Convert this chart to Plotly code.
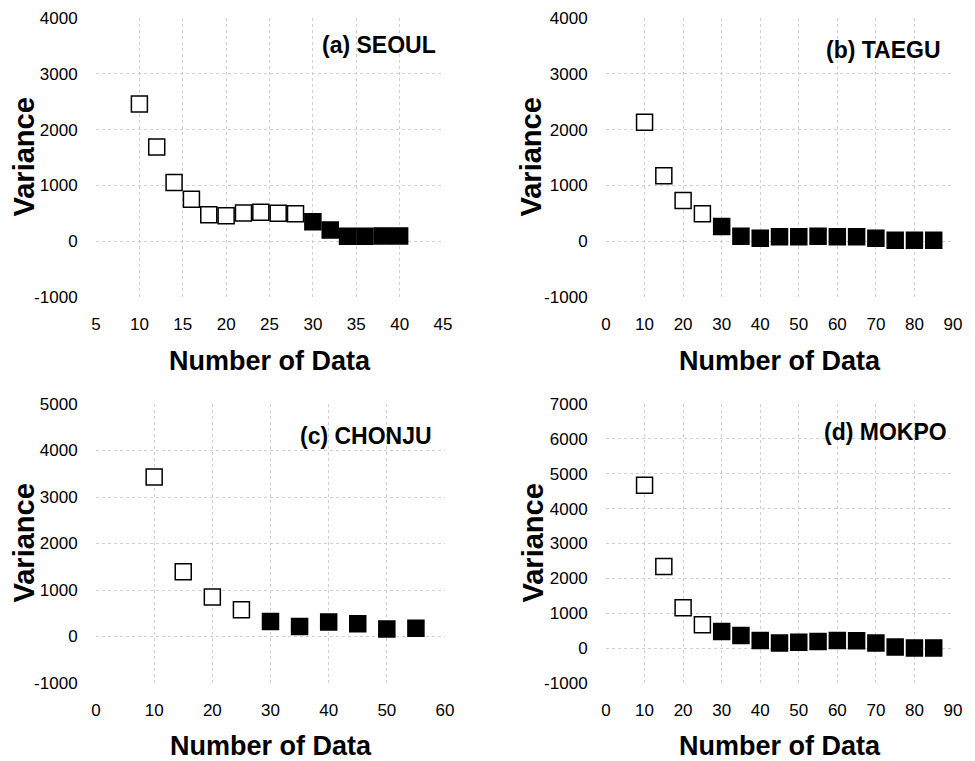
import plotly.graph_objects as go

# ---- data ----
seoul_x = [10, 12, 14, 16, 18, 20, 22, 24, 26, 28, 30, 32, 34, 36, 38, 40]
seoul_y = [2460, 1690, 1050, 750, 475, 455, 505, 520, 500, 490, 350, 200, 90, 90, 95, 95]
seoul_open = 10  # first N points drawn as open squares

taegu_x = [10, 15, 20, 25, 30, 35, 40, 45, 50, 55, 60, 65, 70, 75, 80, 85]
taegu_y = [2130, 1175, 730, 490, 265, 90, 55, 80, 80, 90, 80, 80, 55, 15, 15, 15]
taegu_open = 4

chonju_x = [10, 15, 20, 25, 30, 35, 40, 45, 50, 55]
chonju_y = [3430, 1390, 850, 575, 325, 215, 310, 275, 160, 180]
chonju_open = 4

mokpo_x = [10, 15, 20, 25, 30, 35, 40, 45, 50, 55, 60, 65, 70, 75, 80, 85]
mokpo_y = [4670, 2340, 1160, 670, 480, 365, 220, 145, 165, 190, 220, 210, 145, 30, 5, 5]
mokpo_open = 4

titles = ["(a) SEOUL", "(b) TAEGU", "(c) CHONJU", "(d) MOKPO"]
x_ranges = [[5, 45], [0, 90], [0, 60], [0, 90]]
x_dticks = [5, 10, 10, 10]
y_ranges = [[-1000, 4000], [-1000, 4000], [-1000, 5000], [-1000, 7000]]
y_tickvals = [
    [-1000, 0, 1000, 2000, 3000, 4000],
    [-1000, 0, 1000, 2000, 3000, 4000],
    [-1000, 0, 1000, 2000, 3000, 4000, 5000],
    [-1000, 0, 1000, 2000, 3000, 4000, 5000, 6000, 7000],
]
x_title = "Number of Data"
y_title = "Variance"

panels = [
    (seoul_x, seoul_y, seoul_open),
    (taegu_x, taegu_y, taegu_open),
    (chonju_x, chonju_y, chonju_open),
    (mokpo_x, mokpo_y, mokpo_open),
]

# page offset (browser body margin) compensation
OFF = 8
W, H = 975 - OFF, 761 - OFF


def px(xp):
    return (xp - OFF) / W


def py(yp):
    return 1 - (yp - OFF) / H


# layout in page pixels: plot boxes (left, right, top, bottom)
boxes = [(96, 443, 18, 297), (606, 953, 18, 297), (96, 445, 404, 683), (606, 953, 404, 683)]
title_pos = [(438, 45), (943, 50), (434, 436), (949, 432)]
xtitle_y = [361, 361, 746, 746]
ytitle_x = [23, 530, 23, 532]

FONT = "Liberation Sans, Arial, sans-serif"
fig = go.Figure()
layout = dict(
    width=W, height=H, margin=dict(l=0, r=0, t=0, b=0),
    paper_bgcolor="white", plot_bgcolor="white", showlegend=False,
    font=dict(family=FONT, color="black"),
)
annotations = []
for i, ((xs, ys, n_open), box) in enumerate(zip(panels, boxes)):
    k = "" if i == 0 else str(i + 1)
    xa, ya = "x" + k, "y" + k
    colors = ["white"] * n_open + ["black"] * (len(xs) - n_open)
    fig.add_trace(go.Scatter(
        x=xs, y=ys, mode="markers", xaxis=xa, yaxis=ya,
        marker=dict(symbol="square", size=16, color=colors,
                    line=dict(color="black", width=1.5)),
    ))
    l, r, t, b = box
    grid = dict(showgrid=True, gridcolor="#cfcfcf", griddash="dot", gridwidth=1,
                zeroline=False, showline=False, automargin=False)
    layout["xaxis" + k] = dict(
        domain=[px(l), px(r)], range=x_ranges[i], dtick=x_dticks[i], tick0=0,
        anchor=ya, ticks="outside", ticklen=12, tickcolor="rgba(0,0,0,0)",
        tickfont=dict(size=17, family=FONT), **grid)
    layout["yaxis" + k] = dict(
        domain=[py(b), py(t)], range=y_ranges[i],
        tickvals=y_tickvals[i], ticktext=[str(v) for v in y_tickvals[i]],
        anchor=xa, ticks="outside", ticklen=14, tickcolor="rgba(0,0,0,0)",
        tickfont=dict(size=17, family=FONT), **grid)
    tx, ty = title_pos[i]
    annotations.append(dict(
        text="<b>" + titles[i] + "</b>", xref="paper", yref="paper",
        x=px(tx), y=py(ty), xanchor="right", yanchor="middle",
        showarrow=False, font=dict(size=23, family=FONT)))
    annotations.append(dict(
        text="<b>" + x_title + "</b>", xref="paper", yref="paper",
        x=px((l + r) / 2), y=py(xtitle_y[i]), xanchor="center", yanchor="middle",
        showarrow=False, font=dict(size=27, family=FONT)))
    annotations.append(dict(
        text="<b>" + y_title + "</b>", xref="paper", yref="paper",
        x=px(ytitle_x[i]), y=py((t + b) / 2), xanchor="center", yanchor="middle",
        textangle=-90, showarrow=False, font=dict(size=29, family=FONT)))

layout["annotations"] = annotations
fig.update_layout(**layout)
fig.write_html("out.html")
